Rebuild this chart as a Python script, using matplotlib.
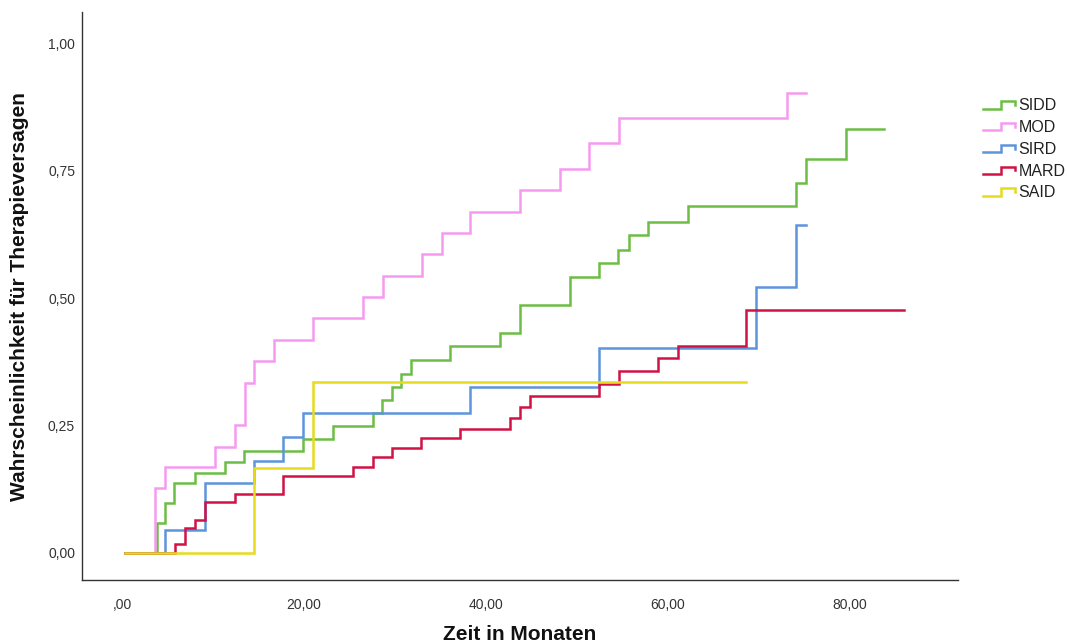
import matplotlib
matplotlib.use("Agg")
import matplotlib.pyplot as plt
from matplotlib.lines import Line2D
from matplotlib.legend_handler import HandlerBase

plt.rcParams['font.family'] = ['Liberation Sans', 'DejaVu Sans']

# --- data (step functions: event times and cumulative probabilities) ---
sidd_t = [0.3, 3.8, 4.7, 5.7, 8.0, 11.3, 13.4, 19.9, 23.2, 27.6, 28.6, 29.7, 30.7, 31.8,
          36.1, 41.6, 43.8, 49.2, 52.4, 54.5, 55.7, 57.8, 62.2, 74.1, 75.2, 79.6, 83.8]
sidd_p = [0.0, 0.059, 0.098, 0.137, 0.157, 0.178, 0.200, 0.223, 0.249, 0.275, 0.300, 0.326, 0.351,
          0.378, 0.405, 0.432, 0.486, 0.541, 0.569, 0.594, 0.624, 0.649, 0.680, 0.725, 0.772, 0.831, 0.831]

mod_t = [0.3, 3.6, 4.7, 10.2, 12.4, 13.5, 14.5, 16.7, 21.0, 26.5, 28.7, 33.0, 35.2,
         38.3, 43.7, 48.1, 51.3, 54.6, 73.1, 75.2]
mod_p = [0.0, 0.127, 0.169, 0.208, 0.251, 0.333, 0.377, 0.418, 0.460, 0.502, 0.543, 0.586, 0.627,
         0.669, 0.712, 0.753, 0.804, 0.853, 0.902, 0.902]

sird_t = [0.3, 4.7, 9.1, 14.5, 17.7, 19.9, 38.3, 52.4, 69.7, 74.1, 75.2]
sird_p = [0.0, 0.045, 0.138, 0.180, 0.228, 0.275, 0.326, 0.402, 0.522, 0.643, 0.643]

mard_t = [0.3, 5.8, 6.9, 8.0, 9.1, 12.4, 17.7, 25.4, 27.6, 29.7, 32.9, 37.2, 42.6, 43.8,
          44.8, 52.4, 54.6, 58.9, 61.1, 68.6, 86.0]
mard_p = [0.0, 0.018, 0.049, 0.065, 0.099, 0.116, 0.151, 0.169, 0.188, 0.206, 0.225, 0.243, 0.264,
          0.286, 0.308, 0.331, 0.356, 0.382, 0.406, 0.476, 0.476]

said_t = [0.3, 14.5, 21.0, 68.6]
said_p = [0.0, 0.167, 0.335, 0.335]

series = [
    ("SIDD", sidd_t, sidd_p, "#6cbd45"),
    ("MOD", mod_t, mod_p, "#f59af0"),
    ("SIRD", sird_t, sird_p, "#5d95dc"),
    ("MARD", mard_t, mard_p, "#d01244"),
    ("SAID", said_t, said_p, "#e6db1c"),
]

y_ticks = [0.0, 0.25, 0.5, 0.75, 1.0]
y_ticklabels = ["0,00", "0,25", "0,50", "0,75", "1,00"]
x_ticks = [0, 20, 40, 60, 80]
x_ticklabels = [",00", "20,00", "40,00", "60,00", "80,00"]


class StepHandler(HandlerBase):
    def create_artists(self, legend, orig_handle, xdescent, ydescent, width, height, fontsize, trans):
        x0 = -xdescent
        y0 = -ydescent
        xs = [x0, x0 + 0.55 * width, x0 + 0.55 * width, x0 + width, x0 + width]
        ys = [y0 + 0.15 * height, y0 + 0.15 * height, y0 + 0.8 * height, y0 + 0.8 * height, y0 + 0.45 * height]
        ln = Line2D(xs, ys, color=orig_handle.get_color(), lw=orig_handle.get_linewidth(),
                    transform=trans, solid_joinstyle='miter')
        return [ln]


W, H = 1067, 643
fig = plt.figure(figsize=(W / 100, H / 100), dpi=100)
ax = fig.add_axes([82 / W, 1 - 580 / H, (958 - 82) / W, (580 - 12) / H])

handles = []
for name, t, p, c in series:
    ln, = ax.step(t, p, where='post', color=c, lw=1.8, label=name, solid_joinstyle='miter')
    handles.append(ln)

ax.set_xlim(-4.4, 91.9)
ax.set_ylim(-0.053, 1.061)

for s in ['top', 'right']:
    ax.spines[s].set_visible(False)
for s in ['left', 'bottom']:
    ax.spines[s].set_color('#333333')
    ax.spines[s].set_linewidth(1.0)

ax.set_yticks(y_ticks)
ax.set_yticklabels(y_ticklabels)
ax.set_xticks(x_ticks)
ax.set_xticklabels(x_ticklabels)
ax.tick_params(axis='both', length=0, labelsize=10, labelcolor='#333333')
ax.tick_params(axis='y', pad=5)
ax.tick_params(axis='x', pad=13)

fig.text(20 / W, 1 - 297 / H, "Wahrscheinlichkeit für Therapieversagen", rotation=90,
         fontsize=15, fontweight='bold', ha='center', va='center', color='#111111')
fig.text(520 / W, 1 - 640 / H, "Zeit in Monaten", fontsize=15, fontweight='bold',
         ha='center', va='baseline', color='#111111')

leg = fig.legend(handles=handles, labels=[h.get_label() for h in handles],
                 handler_map={Line2D: StepHandler()},
                 loc='upper left', bbox_to_anchor=(977 / W, 1 - 92 / H),
                 frameon=False, fontsize=11.5, handlelength=2.0, handletextpad=0.2,
                 labelspacing=0.42, borderaxespad=0)
for txt in leg.get_texts():
    txt.set_color('#222222')

fig.savefig("out.png", dpi=100)
